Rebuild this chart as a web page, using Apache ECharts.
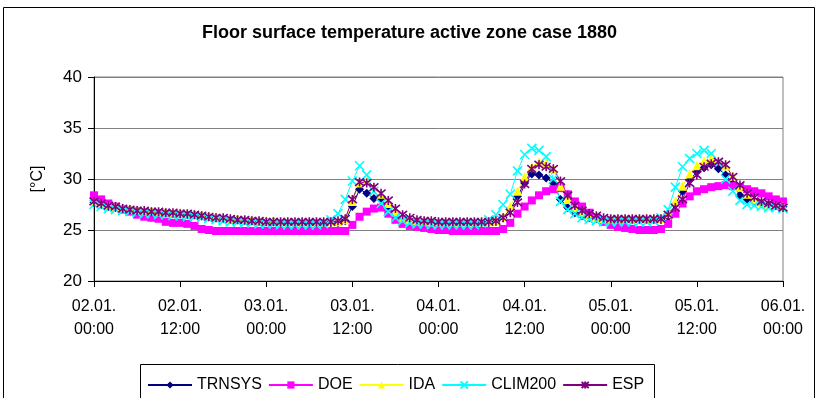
<!DOCTYPE html>
<html>
<head>
<meta charset="utf-8">
<script src="https://cdn.jsdelivr.net/npm/echarts@6/dist/echarts.min.js"></script>
<style>
html,body{margin:0;padding:0;background:#fff;}
#c{width:819px;height:398px;}
</style>
</head>
<body>
<div id="c"></div>
<script>
// x tick labels (every 12 hours), data are hourly from 02.01. 00:00 (hour 0) to 06.01. 00:00 (hour 96)
const tickLabels = ['02.01.\n00:00','02.01.\n12:00','03.01.\n00:00','03.01.\n12:00','04.01.\n00:00','04.01.\n12:00','05.01.\n00:00','05.01.\n12:00','06.01.\n00:00'];

const TRNSYS = [
27.7,27.5,27.3,27.2,27.1,27.0,26.9,26.8,26.8,26.7,26.7,26.6,
26.6,26.5,26.5,26.4,26.3,26.2,26.1,26.0,26.0,25.9,25.9,25.8,
25.8,25.8,25.7,25.7,25.7,25.7,25.7,25.7,25.7,25.7,25.7,25.9,
27.3,29.0,28.6,28.1,28.0,27.2,26.5,26.1,25.9,25.8,25.8,25.7,
25.7,25.7,25.7,25.7,25.7,25.7,25.7,25.7,25.8,26.2,27.0,28.3,
29.6,30.5,30.4,30.1,29.6,28.0,27.2,26.7,26.4,26.2,26.1,26.0,
26.0,26.0,26.0,26.0,26.0,26.0,26.0,26.0,26.3,27.5,28.8,29.9,
30.7,31.1,31.4,31.0,30.4,29.5,28.4,28.0,27.8,27.6,27.5,27.4,27.3];

const DOE = [
28.4,28.0,27.6,27.3,27.0,26.8,26.5,26.3,26.2,26.1,25.8,25.7,
25.7,25.6,25.4,25.1,25.0,24.9,24.9,24.9,24.9,24.9,24.9,24.9,
24.9,24.9,24.9,24.9,24.9,24.9,24.9,24.9,24.9,24.9,24.9,24.9,
25.5,26.3,26.8,27.1,27.2,26.6,26.0,25.6,25.4,25.3,25.2,25.1,
25.0,25.0,24.9,24.9,24.9,24.9,24.9,24.9,24.9,25.1,25.7,26.6,
27.3,27.9,28.4,28.8,29.0,29.1,28.5,27.8,27.3,26.7,26.2,25.8,
25.5,25.3,25.2,25.1,25.0,25.0,25.0,25.1,25.6,26.6,27.6,28.3,
28.8,29.0,29.2,29.3,29.4,29.3,29.2,29.0,28.8,28.6,28.3,28.0,27.8];

const IDA = [
27.8,27.6,27.4,27.3,27.2,27.1,27.0,26.9,26.9,26.8,26.8,26.7,
26.7,26.6,26.6,26.5,26.4,26.3,26.2,26.1,26.1,26.0,26.0,25.9,
25.9,25.9,25.8,25.8,25.8,25.8,25.8,25.8,25.8,25.8,25.8,26.0,
27.8,29.6,29.8,29.2,28.5,27.6,26.8,26.2,26.0,25.9,25.9,25.8,
25.8,25.8,25.8,25.8,25.8,25.8,25.8,25.8,25.9,26.3,27.3,28.8,
30.2,31.2,31.7,31.6,31.0,29.3,28.0,27.2,26.7,26.4,26.2,26.1,
26.1,26.1,26.1,26.1,26.1,26.1,26.1,26.1,26.6,27.8,29.3,30.5,
31.3,31.8,32.0,31.8,31.3,30.3,29.2,28.5,28.0,27.7,27.5,27.4,27.3];

const CLIM200 = [
27.5,27.3,27.1,27.0,26.9,26.8,26.7,26.6,26.6,26.5,26.5,26.4,
26.4,26.3,26.3,26.2,26.1,26.0,25.9,25.8,25.8,25.7,25.7,25.6,
25.6,25.6,25.5,25.5,25.5,25.5,25.5,25.5,25.6,26.0,26.6,28.0,
29.8,31.3,30.4,28.8,27.6,26.8,26.2,25.9,25.7,25.6,25.6,25.5,
25.5,25.5,25.5,25.5,25.5,25.5,25.7,26.0,26.5,27.5,28.5,30.8,
32.4,33.0,32.8,32.2,30.0,27.8,27.0,26.6,26.2,26.0,25.9,25.8,
25.8,25.8,25.8,25.8,25.8,25.8,25.9,26.2,27.0,29.2,31.2,32.0,
32.5,32.8,32.5,31.6,30.0,28.8,27.9,27.5,27.4,27.3,27.2,27.2,27.1];

const ESP = [
27.8,27.6,27.4,27.3,27.1,27.0,26.9,26.9,26.8,26.8,26.7,26.7,
26.6,26.6,26.5,26.4,26.3,26.2,26.2,26.1,26.0,26.0,25.9,25.9,
25.8,25.8,25.8,25.8,25.8,25.8,25.8,25.8,25.8,25.8,25.9,26.1,
28.0,29.7,29.6,29.2,28.6,27.9,27.1,26.5,26.2,26.0,25.9,25.9,
25.8,25.8,25.8,25.8,25.8,25.8,25.8,25.8,25.9,26.2,26.7,27.7,
29.5,31.0,31.4,31.2,31.0,29.8,28.4,27.4,26.9,26.6,26.4,26.2,
26.1,26.1,26.1,26.1,26.1,26.1,26.1,26.1,26.5,27.2,28.0,29.6,
30.4,31.2,31.5,31.7,31.4,30.2,29.4,28.6,28.2,27.8,27.6,27.4,27.2];

const FONT = '"Liberation Sans", Arial, sans-serif';
const toXY = arr => arr.map((v, i) => [i, v]);

const xMark = 'path://M0,0L10,10M10,0L0,10';
const starMark = 'path://M0,0L10,10M10,0L0,10M5,-1L5,11';

function mk(name, data, color, symbol, size, stroke) {
  const s = {
    name: name, type: 'line', data: toXY(data),
    symbol: symbol, symbolSize: size, showSymbol: true,
    lineStyle: {color: color, width: 1},
    itemStyle: {color: color},
    emphasis: {disabled: true},
    animation: false
  };
  if (stroke) {
    s.itemStyle = {color: color, borderColor: color, borderWidth: 1.6};
  }
  return s;
}

const chart = echarts.init(document.getElementById('c'), null, {renderer: 'canvas'});
chart.setOption({
  backgroundColor: '#fff',
  animation: false,
  title: {
    text: 'Floor surface temperature active zone case 1880',
    left: 'center', top: 19,
    textStyle: {fontFamily: FONT, fontSize: 18, fontWeight: 'bold', color: '#000'}
  },
  graphic: [
    {type: 'rect', silent: true, shape: {x: 3.5, y: 7.5, width: 811, height: 400},
     style: {fill: 'none', stroke: '#000', lineWidth: 1}},
    {type: 'rect', silent: true, shape: {x: 140.5, y: 364.5, width: 514, height: 40},
     style: {fill: 'none', stroke: '#000', lineWidth: 1}}
  ],
  legend: {
    left: 142, top: 372,
    itemWidth: 44, itemHeight: 9, itemGap: 6,
    textStyle: {fontFamily: FONT, fontSize: 16, color: '#000'},
    data: ['TRNSYS','DOE','IDA','CLIM200','ESP']
  },
  grid: {
    left: 94, top: 77, right: 36, bottom: 117,
    show: true, borderColor: '#808080', borderWidth: 1, backgroundColor: '#fff'
  },
  xAxis: {
    type: 'value', min: 0, max: 96, interval: 12,
    axisLine: {show: true, lineStyle: {color: '#000', width: 1}},
    axisTick: {show: true, length: 6, inside: false, lineStyle: {color: '#000'}},
    splitLine: {show: false},
    axisLabel: {
      margin: 14, fontFamily: FONT, fontSize: 16, color: '#000', lineHeight: 23,
      formatter: v => tickLabels[Math.round(v / 12)]
    }
  },
  yAxis: {
    type: 'value', min: 20, max: 40, interval: 5,
    name: '[°C]', nameLocation: 'middle', nameRotate: 90, nameGap: 48,
    nameTextStyle: {fontFamily: FONT, fontSize: 16, color: '#000'},
    axisLine: {show: true, lineStyle: {color: '#000', width: 1}},
    axisTick: {show: true, length: 6, inside: false, lineStyle: {color: '#000'}},
    splitLine: {show: true, lineStyle: {color: '#808080', width: 1}},
    axisLabel: {margin: 12, fontFamily: FONT, fontSize: 17, color: '#000'}
  },
  series: [
    mk('TRNSYS', TRNSYS, '#000080', 'diamond', 9),
    mk('DOE', DOE, '#FF00FF', 'rect', 8),
    mk('IDA', IDA, '#FFFF00', 'triangle', 9),
    mk('CLIM200', CLIM200, '#00FFFF', xMark, 9, true),
    mk('ESP', ESP, '#800080', starMark, 9, true)
  ]
});
</script>
</body>
</html>
